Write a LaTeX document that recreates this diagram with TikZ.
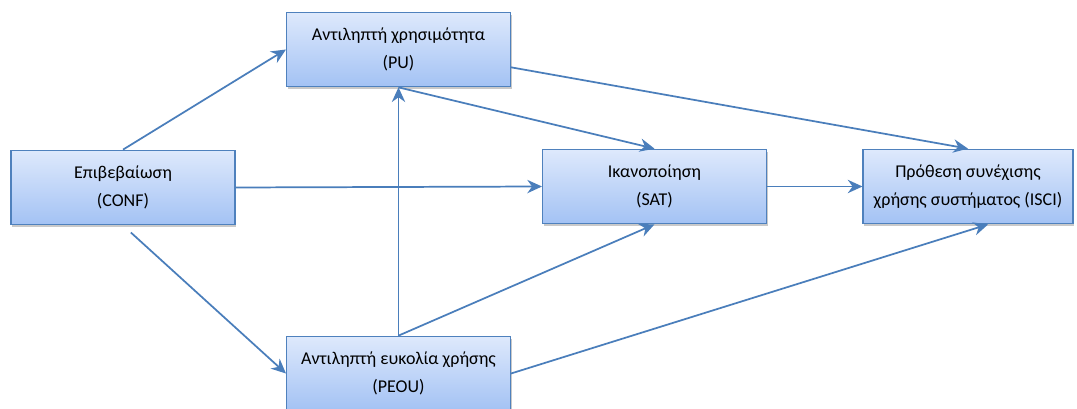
\documentclass[tikz,border=0pt]{standalone}
\usepackage{fontspec}
\setmainfont{Carlito}
\usetikzlibrary{arrows.meta,shadows}
\definecolor{boxline}{RGB}{79,129,189}
\definecolor{boxtop}{RGB}{222,233,252}
\definecolor{boxbot}{RGB}{163,194,244}
\definecolor{linkblue}{RGB}{74,126,187}

\begin{document}
\begin{tikzpicture}[x=0.75pt,y=-0.75pt,
	box/.style={draw=boxline,line width=0.8pt,top color=boxtop,bottom color=boxbot,
		minimum width=168pt,minimum height=56pt,align=center,
		font=\fontsize{13.5}{21}\selectfont,
		drop shadow={shadow xshift=1pt,shadow yshift=-2pt,opacity=0.35,fill=black!60}},
	link/.style={draw=linkblue,line width=1.3pt,-{Stealth[length=11pt,width=10pt]}}]
				\fill[white] (0,0) rectangle (1077,409);
				\useasboundingbox (0,0) rectangle (1077,409);
				
				\node[box] (conf) at (123,187.5) {Επιβεβαίωση\\(CONF)};
				\node[box] (pu) at (398.5,49.5) {Αντιληπτή χρησιμότητα\\(PU)};
				\node[box] (sat) at (654.5,186.5) {Ικανοποίηση\\(SAT)};
				\node[box,minimum width=157.5pt] (isci) at (968,186.5) {Πρόθεση συνέχισης\\χρήσης συστήματος (ISCI)};
				\node[box] (peou) at (398.5,373.5) {Αντιληπτή ευκολία χρήσης\\(PEOU)};
				
				\draw[link] (conf.north) -- (pu.west);
				\draw[link,shorten <=8pt] (conf.south) -- (peou.west);
				\draw[link] (conf.east) -- (sat.west);
				\draw[link] (peou.north) -- (pu.south);
				\draw[link] (peou.north) -- (sat.south);
				\draw[link] (pu.south) -- (sat.north);
				\draw[link] (pu.-9) -- (isci.north);
				\draw[link] (sat.east) -- (isci.west);
				\draw[link] (peou.east) -- (isci.-62);
			\end{tikzpicture}
\end{document}
